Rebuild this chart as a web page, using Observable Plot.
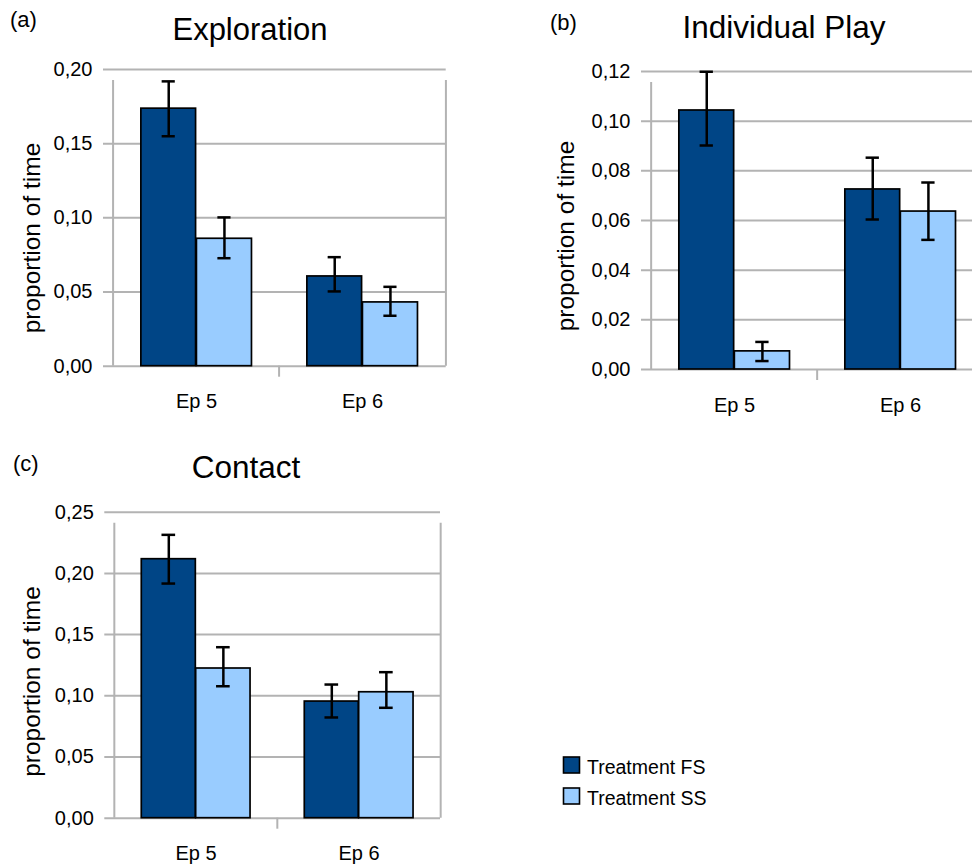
<!DOCTYPE html>
<html>
<head>
<meta charset="utf-8">
<script src="https://cdn.jsdelivr.net/npm/d3@7"></script>
<script src="https://cdn.jsdelivr.net/npm/@observablehq/plot@0.6"></script>
<style>
  html, body { margin: 0; padding: 0; background: #fff; }
  #wrap { position: relative; width: 972px; height: 865px; overflow: hidden; background: #fff; }
  #overlay { left: 0; top: 0; pointer-events: none; }
</style>
</head>
<body>
<div id="wrap"></div>
<script>
// ---------------- data ----------------
const episodes = ["Ep 5", "Ep 6"];
const treatments = ["Treatment FS", "Treatment SS"];
const treatmentColors = ["#004586", "#99ccff"];
const yLabel = "proportion of time";

// (a) Exploration
const explorationTitle = "Exploration";
const explorationTicks = [0, 0.05, 0.10, 0.15, 0.20];
const explorationFS = [0.1736, 0.0605];
const explorationFSLow = [0.155, 0.0504];
const explorationFSHigh = [0.192, 0.0735];
const explorationSS = [0.0859, 0.0430];
const explorationSSLow = [0.0728, 0.0340];
const explorationSSHigh = [0.1003, 0.0535];

// (b) Individual Play
const playTitle = "Individual Play";
const playTicks = [0, 0.02, 0.04, 0.06, 0.08, 0.10, 0.12];
const playFS = [0.1043, 0.0725];
const playFSLow = [0.0902, 0.0604];
const playFSHigh = [0.1199, 0.0853];
const playSS = [0.0073, 0.0636];
const playSSLow = [0.0034, 0.0522];
const playSSHigh = [0.0111, 0.0753];

// (c) Contact
const contactTitle = "Contact";
const contactTicks = [0, 0.05, 0.10, 0.15, 0.20, 0.25];
const contactFS = [0.2116, 0.0953];
const contactFSLow = [0.1917, 0.0823];
const contactFSHigh = [0.2315, 0.1092];
const contactSS = [0.1223, 0.1029];
const contactSSLow = [0.1078, 0.0902];
const contactSSHigh = [0.1397, 0.1193];

// ---------------- drawing ----------------
const FONT = "'Liberation Sans', Arial, Helvetica, sans-serif";
const GRID = "#b3b3b3";
const wrap = document.getElementById("wrap");
const fmt = d => d3.format(".2f")(d).replace(".", ",");

function rows(fs, fsLo, fsHi, ss, ssLo, ssHi) {
  const out = [];
  episodes.forEach((ep, i) => {
    out.push({ep, t: treatments[0], v: fs[i], lo: fsLo[i], hi: fsHi[i], k: 0});
    out.push({ep, t: treatments[1], v: ss[i], lo: ssLo[i], hi: ssHi[i], k: 1});
  });
  return out;
}

function panel(cfg) {
  const {left, top, width, height, ml, mr, mt, mb, ticks, data} = cfg;
  const bw = (width - ml - mr) / episodes.length;
  const yMax = ticks[ticks.length - 1];
  const edges = [0.167, 0.5, 0.835];
  const capHalf = 7;
  const first = episodes[0], last = episodes[episodes.length - 1];
  const marks = [
    // horizontal gridlines (extended left as tick marks)
    Plot.ruleY(ticks, {stroke: GRID, strokeWidth: 2, insetLeft: -9}),
    // left and right frame lines, extending below as ticks
    Plot.ruleX([first], {x: d => d, y1: 0, y2: yMax, dx: -bw / 2, insetBottom: -11, stroke: GRID, strokeWidth: 2}),
    Plot.ruleX([last], {x: d => d, y1: 0, y2: yMax, dx: bw / 2, insetBottom: -11, stroke: GRID, strokeWidth: 2}),
    // category separators: tick only below the axis
    Plot.ruleX(episodes.slice(1), {x: d => d, y1: 0, y2: 0, dx: -bw / 2, insetBottom: -11, stroke: GRID, strokeWidth: 2}),
  ];
  [0, 1].forEach(k => {
    const sub = data.filter(d => d.k === k);
    const l = edges[k] * bw, r = (1 - edges[k + 1]) * bw;
    marks.push(Plot.barY(sub, {x: "ep", y: "v", fill: treatmentColors[k], stroke: "#000", strokeWidth: 1.7, insetLeft: l, insetRight: r}));
  });
  [0, 1].forEach(k => {
    const sub = data.filter(d => d.k === k);
    const c = (edges[k] + edges[k + 1]) / 2 * bw;
    marks.push(Plot.ruleX(sub, {x: "ep", y1: "lo", y2: "hi", dx: c - bw / 2, stroke: "#000", strokeWidth: 2.5}));
    marks.push(Plot.tickY(sub, {x: "ep", y: "hi", insetLeft: c - capHalf, insetRight: bw - c - capHalf, stroke: "#000", strokeWidth: 2.5}));
    marks.push(Plot.tickY(sub, {x: "ep", y: "lo", insetLeft: c - capHalf, insetRight: bw - c - capHalf, stroke: "#000", strokeWidth: 2.5}));
  });
  marks.push(Plot.axisY(ticks, {tickSize: 0, tickPadding: 20, tickFormat: fmt, label: null, fontSize: 20}));
  marks.push(Plot.axisX({tickSize: 0, tickPadding: 28, label: null, fontSize: 20}));
  const svg = Plot.plot({
    width, height,
    marginLeft: ml, marginRight: mr, marginTop: mt, marginBottom: mb,
    style: {fontFamily: FONT, fontSize: "20px", color: "#000", background: "transparent", overflow: "visible"},
    x: {type: "band", domain: episodes, padding: 0},
    y: {domain: [0, yMax]},
    marks
  });
  svg.style.position = "absolute";
  svg.style.left = left + "px";
  svg.style.top = top + "px";
  wrap.appendChild(svg);
}

panel({left: 0, top: 0, width: 460, height: 420, ml: 112, mr: 14.3, mt: 69, mb: 54.3, ticks: explorationTicks,
  data: rows(explorationFS, explorationFSLow, explorationFSHigh, explorationSS, explorationSSLow, explorationSSHigh)});
panel({left: 540, top: 0, width: 460, height: 420, ml: 110, mr: 16.6, mt: 71, mb: 51, ticks: playTicks,
  data: rows(playFS, playFSLow, playFSHigh, playSS, playSSLow, playSSHigh)});
panel({left: 0, top: 440, width: 460, height: 425, ml: 113.3, mr: 20, mt: 71.7, mb: 47.3, ticks: contactTicks,
  data: rows(contactFS, contactFSLow, contactFSHigh, contactSS, contactSSLow, contactSSHigh)});

// ---------------- overlay text & legend ----------------
const ov = d3.select(wrap).append("svg").attr("id", "overlay")
  .attr("width", 972).attr("height", 865)
  .style("position", "absolute").style("left", "0px").style("top", "0px")
  .style("font-family", FONT).style("fill", "#000");

const texts = [
  {t: "(a)", x: 10, y: 27, s: 22, a: "start"},
  {t: explorationTitle, x: 250, y: 40, s: 31, a: "middle"},
  {t: "(b)", x: 550, y: 30, s: 22, a: "start"},
  {t: playTitle, x: 784, y: 38, s: 31.5, a: "middle"},
  {t: "(c)", x: 13, y: 471, s: 22, a: "start"},
  {t: contactTitle, x: 246, y: 478, s: 31.5, a: "middle"},
];
texts.forEach(d => ov.append("text").attr("x", d.x).attr("y", d.y).attr("font-size", d.s)
  .attr("text-anchor", d.a).text(d.t));

[[40, 238], [574, 236], [40, 681.5]].forEach(([x, y]) =>
  ov.append("text").attr("transform", `translate(${x},${y}) rotate(-90)`)
    .attr("text-anchor", "middle").attr("font-size", 24.5).text(yLabel));

treatments.forEach((t, i) => {
  const y0 = 757 + i * 31;
  ov.append("rect").attr("x", 563.5).attr("y", y0).attr("width", 16).attr("height", 16)
    .attr("fill", treatmentColors[i]).attr("stroke", "#000").attr("stroke-width", 1.6);
  ov.append("text").attr("x", 587).attr("y", y0 + 17).attr("font-size", 19.5).text(t);
});
</script>
</body>
</html>
